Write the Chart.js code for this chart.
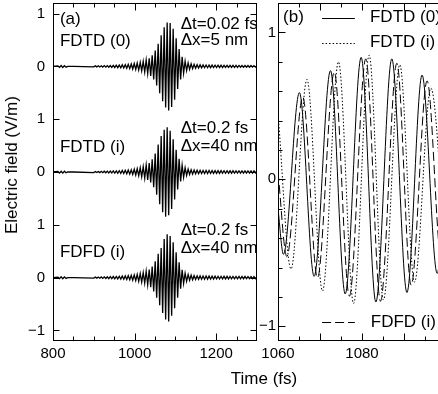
<!DOCTYPE html>
<html lang="en">
<head>
<meta charset="UTF-8">
<script src="https://cdn.jsdelivr.net/npm/chart.js"></script>
<title>Electric field pulses</title>
<style>
  html, body { margin: 0; padding: 0; background: #fff; overflow: hidden; }
  #wrap { position: relative; width: 438px; height: 394px; overflow: hidden; font-family: "Liberation Sans", Arial, sans-serif; }
  #chartA { position: absolute; left: 0; top: 0; }
  #chartB { position: absolute; left: 255px; top: 0; }
  .title { position: absolute; font-size: 17px; color: #000; white-space: nowrap; transform: translate(-50%, -50%); }
  #ytitle { left: 12px; top: 165px; transform: translate(-50%, -50%) rotate(-90deg); }
  #xtitle { left: 264px; top: 379px; }
</style>
</head>
<body>
<div id="wrap">
  <canvas id="chartA" width="262" height="394"></canvas>
  <canvas id="chartB" width="195" height="394"></canvas>
  <div class="title" id="ytitle">Electric field (V/m)</div>
  <div class="title" id="xtitle">Time (fs)</div>
</div>
<script>
// ---- panel (a): extrema of the three pulses (time in fs, field in V/m)
const timeA = [800, 812, 816, 820, 824, 828, 832, 836, 850,
  900.0, 903.7, 907.4, 911.0, 914.7, 918.4, 922.0, 925.7, 929.4, 933.1,
  936.7, 940.4, 944.1, 947.7, 951.4, 955.1, 958.7, 962.4, 966.1, 969.7,
  973.4, 977.1, 980.8, 984.4, 988.1, 991.8, 995.4, 999.1, 1002.8, 1006.4,
  1010.1, 1013.8, 1017.4, 1021.1, 1024.8, 1028.4, 1032.1, 1035.8, 1039.5, 1043.1,
  1046.8, 1050.5, 1054.1, 1057.8, 1061.5, 1065.1, 1068.8, 1072.5, 1076.1, 1079.8,
  1083.5, 1087.1, 1090.8, 1094.5, 1098.1, 1101.8, 1105.5, 1109.1, 1112.8, 1116.5,
  1120.1, 1123.8, 1127.5, 1131.2, 1134.8, 1138.5, 1142.2, 1145.8, 1149.5, 1153.2,
  1156.8, 1160.5, 1164.2, 1167.8, 1171.5, 1175.2, 1178.9, 1182.5, 1186.2, 1189.9,
  1193.5, 1197.2, 1200.9, 1204.5, 1208.2, 1211.9, 1215.5, 1219.2, 1222.9, 1226.6,
  1230.2, 1233.9, 1237.6, 1241.2, 1244.9, 1248.6, 1252.2, 1255.9, 1259.6, 1263.2,
  1266.9, 1270.6, 1274.3, 1277.9, 1281.6, 1285.3, 1288.9, 1292.6, 1296.3, 1299.9];

const fdtd0A = [0, 0.01, -0.02, 0.015, -0.02, 0.015, -0.015, 0, 0,
  -0.01, 0.01, -0.01, 0.01, -0.012, 0.012, -0.012, 0.014, -0.014, 0.015,
  -0.016, 0.017, -0.018, 0.02, -0.021, 0.022, -0.024, 0.025, -0.027, 0.029,
  -0.031, 0.033, -0.036, 0.039, -0.042, 0.046, -0.05, 0.054, -0.059, 0.064,
  -0.07, 0.077, -0.085, 0.095, -0.107, 0.12, -0.136, 0.155, -0.18, 0.21,
  -0.25, 0.3, -0.36, 0.43, -0.51, 0.59, -0.66, 0.74, -0.78, 0.83,
  -0.835, 0.82, -0.77, 0.71, -0.63, 0.53, -0.43, 0.33, -0.25, 0.18,
  -0.13, 0.1, -0.08, 0.065, -0.055, 0.048, -0.042, 0.038, -0.035, 0.032,
  -0.03, 0.029, -0.028, 0.027, -0.026, 0.026, -0.025, 0.025, -0.024, 0.024,
  -0.023, 0.023, -0.022, 0.022, -0.021, 0.021, -0.021, 0.02, -0.02, 0.02,
  -0.02, 0.019, -0.019, 0.019, -0.018, 0.018, -0.018, 0.018, -0.017, 0.017,
  -0.017, 0.017, -0.016, 0.016, -0.016, 0.016, -0.015, 0.015, -0.015, 0.015];

const fdtdiA = [0, 0.01, -0.02, 0.015, -0.02, 0.015, -0.015, 0, 0,
  -0.01, 0.01, -0.01, 0.01, -0.011, 0.012, -0.013, 0.014, -0.015, 0.016,
  -0.017, 0.018, -0.019, 0.02, -0.021, 0.022, -0.023, 0.025, -0.026, 0.028,
  -0.03, 0.032, -0.034, 0.037, -0.04, 0.043, -0.047, 0.052, -0.057, 0.063,
  -0.07, 0.08, -0.09, 0.1, -0.115, 0.13, -0.15, 0.17, -0.2, 0.24,
  -0.29, 0.35, -0.43, 0.52, -0.61, 0.68, -0.76, 0.8, -0.845, 0.845,
  -0.82, 0.78, -0.7, 0.62, -0.52, 0.42, -0.33, 0.25, -0.18, 0.13,
  -0.1, 0.08, -0.065, 0.055, -0.048, 0.043, -0.04, 0.037, -0.035, 0.033,
  -0.032, 0.031, -0.03, 0.03, -0.029, 0.029, -0.028, 0.028, -0.027, 0.027,
  -0.026, 0.026, -0.026, 0.025, -0.025, 0.025, -0.024, 0.024, -0.024, 0.023,
  -0.023, 0.023, -0.023, 0.022, -0.022, 0.022, -0.022, 0.021, -0.021, 0.021,
  -0.021, 0.021, -0.02, 0.02, -0.02, 0.02, -0.02, 0.02, -0.019, 0.019];

const fdfdiA = [0, 0.01, -0.02, 0.015, -0.02, 0.015, -0.015, 0, 0,
  -0.01, 0.01, -0.01, 0.011, -0.012, 0.013, -0.014, 0.015, -0.016, 0.017,
  -0.018, 0.019, -0.02, 0.021, -0.022, 0.023, -0.024, 0.026, -0.027, 0.029,
  -0.031, 0.033, -0.035, 0.038, -0.041, 0.044, -0.048, 0.052, -0.057, 0.062,
  -0.07, 0.077, -0.085, 0.095, -0.105, 0.12, -0.135, 0.155, -0.18, 0.21,
  -0.26, 0.31, -0.38, 0.45, -0.525, 0.56, -0.67, 0.73, -0.795, 0.82,
  -0.83, 0.79, -0.72, 0.67, -0.58, 0.48, -0.38, 0.29, -0.21, 0.15,
  -0.11, 0.085, -0.07, 0.06, -0.05, 0.045, -0.04, 0.037, -0.035, 0.034,
  -0.033, 0.032, -0.031, 0.031, -0.03, 0.03, -0.029, 0.029, -0.028, 0.028,
  -0.027, 0.027, -0.026, 0.026, -0.026, 0.025, -0.025, 0.025, -0.024, 0.024,
  -0.024, 0.023, -0.023, 0.023, -0.022, 0.022, -0.022, 0.022, -0.021, 0.021,
  -0.021, 0.021, -0.02, 0.02, -0.02, 0.02, -0.02, 0.02, -0.019, 0.019];

// vertical shift of each trace in panel (a)
const offsetsA = [4, 2, 0];
const yTickValsA = [-1, 0, 1, 2, 3, 4, 5];
const yTickLabelsA = ['\u22121', '0', '1', '0', '1', '0', '1'];
const xTickValsA = [800, 1000, 1200];
const xMinorA = [850, 900, 950, 1050, 1100, 1150, 1250];

// ---- panel (b): zoom on the pulse centre
const timeB0 = [1060.0, 1061.3, 1065.1, 1068.6, 1072.5, 1076.0, 1079.8, 1083.3, 1087.1, 1090.7, 1094.3, 1097.9, 1100.0];
const fdtd0B = [-0.2, -0.51, 0.59, -0.66, 0.74, -0.78, 0.83, -0.835, 0.82, -0.77, 0.71, -0.64, 0.1];
const timeBi = [1060.0, 1063.1, 1066.9, 1070.6, 1074.4, 1078.0, 1081.7, 1085.1, 1089.0, 1092.5, 1096.4, 1100.0];
const fdtdiB = [0.45, -0.61, 0.68, -0.76, 0.80, -0.845, 0.845, -0.82, 0.78, -0.70, 0.62, -0.55];
const timeBf = [1060.0, 1062.1, 1065.9, 1069.4, 1073.4, 1077.0, 1080.9, 1084.4, 1088.3, 1091.7, 1095.5, 1099.0, 1100.0];
const fdfdiB = [0.05, -0.525, 0.56, -0.67, 0.73, -0.795, 0.82, -0.83, 0.79, -0.72, 0.67, -0.58, -0.5];

const xTickValsB = [1060, 1080];
const xMajorB = [1060, 1070, 1080, 1090, 1100];
const xMinorB = [1065, 1075, 1085, 1095];
const yTickValsB = [-1, 0, 1];
const yTickLabelsB = ['\u22121', '0', '1'];
const yMinorB = [-0.8, -0.6, -0.4, -0.2, 0.2, 0.4, 0.6, 0.8];

const FONT = '"Liberation Sans", Arial, sans-serif';
Chart.defaults.font.family = FONT;
Chart.defaults.color = '#000';

function zip(xs, ys, shift) {
  return xs.map((x, i) => ({ x: x, y: ys[i] + (shift || 0) }));
}

// frame, inward ticks, notes and legend samples
const framePlugin = {
  id: 'frame',
  afterDraw(chart, args, o) {
    const { ctx, chartArea: a, scales: { x, y } } = chart;
    const L = Math.round(a.left) + 0.5, R = Math.round(a.right) - 0.5;
    const T = Math.round(a.top) + 0.5, B = Math.round(a.bottom) - 0.5;
    ctx.save();
    ctx.strokeStyle = '#000';
    ctx.lineWidth = 1;
    ctx.strokeRect(L, T, R - L, B - T);
    ctx.beginPath();
    (o.xTicks || []).forEach(([vals, len]) => vals.forEach(v => {
      const p = Math.round(x.getPixelForValue(v)) + 0.5;
      ctx.moveTo(p, B); ctx.lineTo(p, B - len);
      ctx.moveTo(p, T); ctx.lineTo(p, T + len);
    }));
    (o.yTicks || []).forEach(([vals, len]) => vals.forEach(v => {
      const p = Math.round(y.getPixelForValue(v)) + 0.5;
      ctx.moveTo(L, p); ctx.lineTo(L + len, p);
      ctx.moveTo(R, p); ctx.lineTo(R - len, p);
    }));
    ctx.stroke();

    (o.samples || []).forEach(s => {
      ctx.beginPath();
      ctx.setLineDash(s.dash);
      const py = Math.round(y.getPixelForValue(s.y)) + 0.5;
      ctx.moveTo(x.getPixelForValue(s.x1), py);
      ctx.lineTo(x.getPixelForValue(s.x2), py);
      ctx.stroke();
    });
    ctx.setLineDash([]);

    ctx.fillStyle = '#000';
    ctx.font = '17px ' + FONT;
    ctx.textAlign = 'left';
    ctx.textBaseline = 'middle';
    (o.notes || []).forEach(n => {
      ctx.fillText(n.text, x.getPixelForValue(n.x), y.getPixelForValue(n.y));
    });
    ctx.restore();
  }
};

function fixedAxis(size) {
  return function (scale) {
    if (scale.isHorizontal()) scale.height = size; else scale.width = size;
    scale.paddingLeft = 0; scale.paddingRight = 0;
    scale.paddingTop = 0; scale.paddingBottom = 0;
  };
}

const noGrid = { display: false, drawTicks: false };
const lineA = { borderColor: '#000', borderWidth: 1.3, pointRadius: 0, fill: false, tension: 0 };

new Chart(document.getElementById('chartA'), {
  type: 'line',
  data: {
    datasets: [
      Object.assign({ label: 'FDTD (0)', data: zip(timeA, fdtd0A, offsetsA[0]) }, lineA),
      Object.assign({ label: 'FDTD (i)', data: zip(timeA, fdtdiA, offsetsA[1]) }, lineA),
      Object.assign({ label: 'FDFD (i)', data: zip(timeA, fdfdiA, offsetsA[2]) }, lineA)
    ]
  },
  options: {
    responsive: false,
    animation: false,
    devicePixelRatio: 1,
    layout: { padding: { left: 0, right: 5, top: 3, bottom: 0 } },
    plugins: {
      legend: { display: false },
      tooltip: { enabled: false },
      frame: {
        xTicks: [[xTickValsA, 7], [xMinorA, 4]],
        yTicks: [[yTickValsA, 6]],
        notes: [
          { text: '(a)', x: 817, y: 4.9 },
          { text: 'FDTD (0)', x: 817, y: 4.48 },
          { text: '\u0394t=0.02 fs', x: 1113, y: 4.79 },
          { text: '\u0394x=5 nm', x: 1113, y: 4.5 },
          { text: 'FDTD (i)', x: 817, y: 2.46 },
          { text: '\u0394t=0.2 fs', x: 1113, y: 2.82 },
          { text: '\u0394x=40 nm', x: 1113, y: 2.48 },
          { text: 'FDFD (i)', x: 817, y: 0.47 },
          { text: '\u0394t=0.2 fs', x: 1113, y: 0.89 },
          { text: '\u0394x=40 nm', x: 1113, y: 0.55 }
        ]
      }
    },
    scales: {
      x: {
        type: 'linear', min: 800, max: 1300,
        grid: noGrid, border: { display: false },
        afterFit: fixedAxis(53),
        afterBuildTicks: s => { s.ticks = xTickValsA.map(v => ({ value: v })); },
        ticks: { autoSkip: false, maxRotation: 0, padding: 4, font: { size: 15 }, callback: v => String(v) }
      },
      y: {
        type: 'linear', min: -1.2, max: 5.2,
        grid: noGrid, border: { display: false },
        afterFit: fixedAxis(53),
        afterBuildTicks: s => { s.ticks = yTickValsA.map(v => ({ value: v })); },
        ticks: { padding: 8, font: { size: 15 }, callback: (v, i) => yTickLabelsA[i] }
      }
    }
  },
  plugins: [framePlugin]
});

const lineB = { borderColor: '#000', borderWidth: 1, pointRadius: 0, fill: false, cubicInterpolationMode: 'monotone' };

new Chart(document.getElementById('chartB'), {
  type: 'line',
  data: {
    datasets: [
      Object.assign({ label: 'FDTD (0)', data: zip(timeB0, fdtd0B) }, lineB),
      Object.assign({ label: 'FDTD (i)', data: zip(timeBi, fdtdiB), borderDash: [1.5, 2] }, lineB),
      Object.assign({ label: 'FDFD (i)', data: zip(timeBf, fdfdiB), borderDash: [9, 4] }, lineB)
    ]
  },
  options: {
    responsive: false,
    animation: false,
    devicePixelRatio: 1,
    layout: { padding: { left: 0, right: 4, top: 3, bottom: 0 } },
    plugins: {
      legend: { display: false },
      tooltip: { enabled: false },
      frame: {
        xTicks: [[xMajorB, 7], [xMinorB, 4]],
        yTicks: [[yTickValsB, 7], [yMinorB, 4]],
        samples: [
          { x1: 1070.5, x2: 1078.3, y: 1.10, dash: [] },
          { x1: 1070.5, x2: 1078.3, y: 0.93, dash: [1.5, 2] },
          { x1: 1070.5, x2: 1078.3, y: -0.97, dash: [9, 4] }
        ],
        notes: [
          { text: '(b)', x: 1061.2, y: 1.10 },
          { text: 'FDTD (0)', x: 1081.9, y: 1.10 },
          { text: 'FDTD (i)', x: 1081.9, y: 0.93 },
          { text: 'FDFD (i)', x: 1082.1, y: -0.97 }
        ]
      }
    },
    scales: {
      x: {
        type: 'linear', min: 1060, max: 1100,
        grid: noGrid, border: { display: false },
        afterFit: fixedAxis(53),
        afterBuildTicks: s => { s.ticks = xTickValsB.map(v => ({ value: v })); },
        ticks: { autoSkip: false, maxRotation: 0, padding: 4, font: { size: 15 }, callback: v => String(v) }
      },
      y: {
        type: 'linear', min: -1.1, max: 1.2,
        grid: noGrid, border: { display: false },
        afterFit: fixedAxis(23),
        afterBuildTicks: s => { s.ticks = yTickValsB.map(v => ({ value: v })); },
        ticks: { padding: 2, font: { size: 15 }, callback: (v, i) => yTickLabelsB[i] }
      }
    }
  },
  plugins: [framePlugin]
});
</script>
</body>
</html>
